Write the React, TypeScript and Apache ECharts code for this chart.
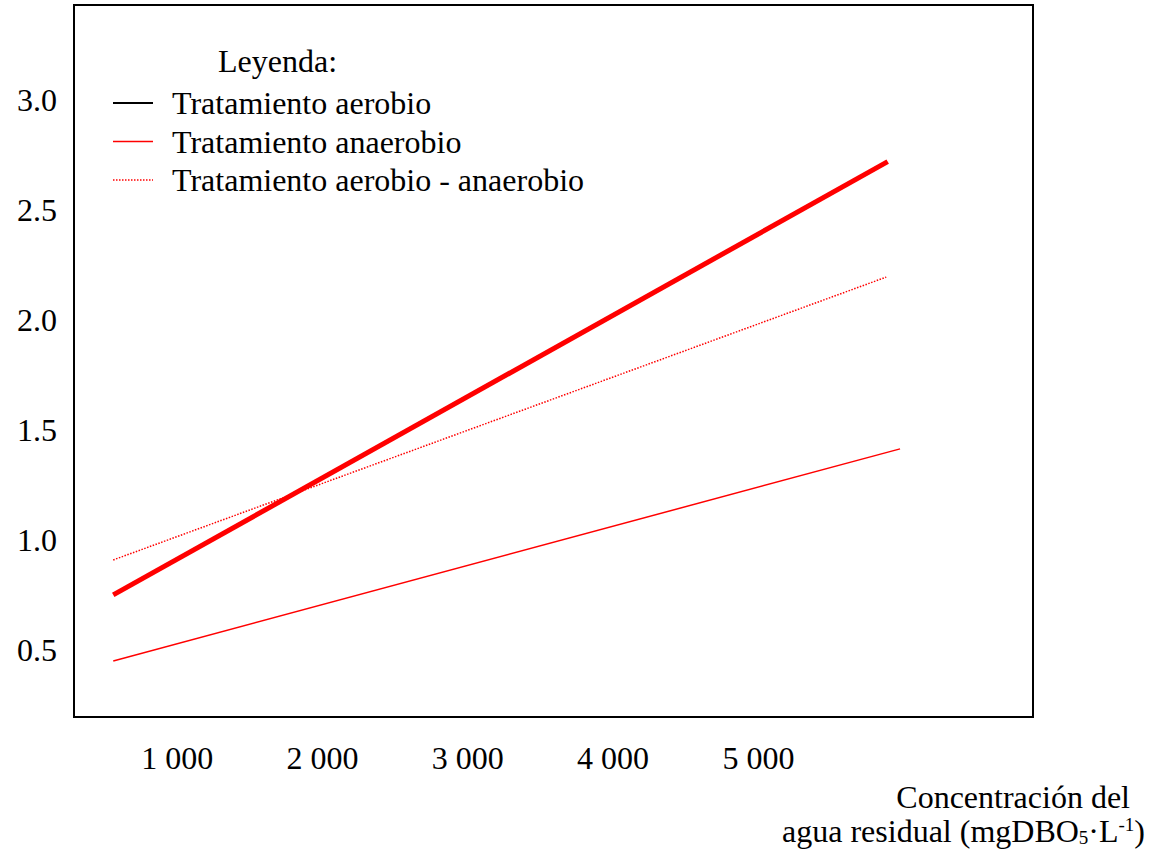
import React, { useEffect, useRef } from "react";
import * as echarts from "echarts";

const FONT = "'Liberation Serif', 'Times New Roman', serif";
const FS = 32;

// Series endpoints (x = mgDBO5/L, y = value)
const aerobioX = [560, 5890];
const aerobioY = [0.75, 2.72];
const anaerobioX = [560, 5975];
const anaerobioY = [0.45, 1.414];
const mixtoX = [560, 5880];
const mixtoY = [0.909, 2.195];

const xTicks = [1000, 2000, 3000, 4000, 5000];
const yTicks = [0.5, 1.0, 1.5, 2.0, 2.5, 3.0];

const seriesNames = [
  "Tratamiento aerobio",
  "Tratamiento anaerobio",
  "Tratamiento aerobio - anaerobio",
];

const pairs = (xs: number[], ys: number[]) => xs.map((x, i) => [x, ys[i]]);

export default function App() {
  const ref = useRef<HTMLDivElement>(null);
  useEffect(() => {
    if (!ref.current) return;
    const chart = echarts.init(ref.current, null, { renderer: "svg" });
    const hidden = { opacity: 0, borderWidth: 0, color: "transparent" };
    chart.setOption({
      animation: false,
      backgroundColor: "#fff",
      title: {
        text: "Leyenda:",
        left: 218,
        top: 45,
        padding: 0,
        textStyle: { fontFamily: FONT, fontSize: FS, fontWeight: "normal", color: "#000" },
      },
      legend: {
        orient: "vertical",
        left: 112,
        top: 87,
        padding: 0,
        itemWidth: 40,
        itemHeight: 4,
        itemGap: 6.5,
        selectedMode: false,
        itemStyle: hidden,
        textStyle: {
          fontFamily: FONT,
          fontSize: FS,
          color: "#000",
          lineHeight: 32,
          padding: [0, 0, 0, 14],
        },
        data: [
          { name: seriesNames[0], itemStyle: hidden, lineStyle: { color: "#000", width: 2 } },
          { name: seriesNames[1], itemStyle: hidden, lineStyle: { color: "#ff0000", width: 1.5 } },
          { name: seriesNames[2], itemStyle: hidden, lineStyle: { color: "#ff0000", width: 1.5, type: "dotted" } },
        ],
      },
      grid: {
        left: 74,
        right: 124,
        top: 5,
        bottom: 138,
        show: true,
        borderColor: "#000",
        borderWidth: 2,
        backgroundColor: "transparent",
        containLabel: false,
        outerBoundsMode: "none",
      },
      xAxis: {
        type: "value",
        min: 290,
        max: 6890,
        axisLine: { show: false },
        axisTick: { show: false },
        splitLine: { show: false },
        axisLabel: {
          customValues: xTicks,
          margin: 25,
          fontFamily: FONT,
          fontSize: FS,
          color: "#000",
          formatter: (v: number) => String(v).replace(/\B(?=(\d{3})+(?!\d))/g, " "),
        },
      },
      yAxis: {
        type: "value",
        min: 0.195,
        max: 3.432,
        axisLine: { show: false },
        axisTick: { show: false },
        splitLine: { show: false },
        axisLabel: {
          customValues: yTicks,
          margin: 17,
          fontFamily: FONT,
          fontSize: FS,
          color: "#000",
          formatter: (v: number) => v.toFixed(1),
        },
      },
      series: [
        {
          name: seriesNames[0],
          type: "line",
          symbol: "none",
          data: pairs(aerobioX, aerobioY),
          lineStyle: { color: "#ff0000", width: 5 },
          itemStyle: { color: "#ff0000" },
        },
        {
          name: seriesNames[1],
          type: "line",
          symbol: "none",
          data: pairs(anaerobioX, anaerobioY),
          lineStyle: { color: "#ff0000", width: 1.5 },
          itemStyle: { color: "#ff0000" },
        },
        {
          name: seriesNames[2],
          type: "line",
          symbol: "none",
          data: pairs(mixtoX, mixtoY),
          lineStyle: { color: "#ff0000", width: 1.5, type: "dotted" },
          itemStyle: { color: "#ff0000" },
        },
      ],
      graphic: [
        {
          type: "text",
          x: 1130,
          y: 797,
          style: {
            text: "Concentración del",
            font: `${FS}px ${FONT}`,
            fill: "#000",
            textAlign: "right",
            textVerticalAlign: "middle",
          },
        },
        {
          type: "text",
          x: 1145,
          y: 831,
          style: {
            text: "agua residual (mgDBO{sub|5}·L{sup|-1})",
            font: `${FS}px ${FONT}`,
            fill: "#000",
            textAlign: "right",
            textVerticalAlign: "middle",
            rich: {
              sub: { fontSize: 19, fontFamily: FONT, fill: "#000", verticalAlign: "bottom", lineHeight: 22 },
              sup: { fontSize: 19, fontFamily: FONT, fill: "#000", verticalAlign: "top", lineHeight: 22 },
            },
          },
        },
      ],
    });
    return () => chart.dispose();
  }, []);
  return (
    <div
      ref={ref}
      style={{ position: "fixed", left: 0, top: 0, width: 1157, height: 855, background: "#fff" }}
    />
  );
}
